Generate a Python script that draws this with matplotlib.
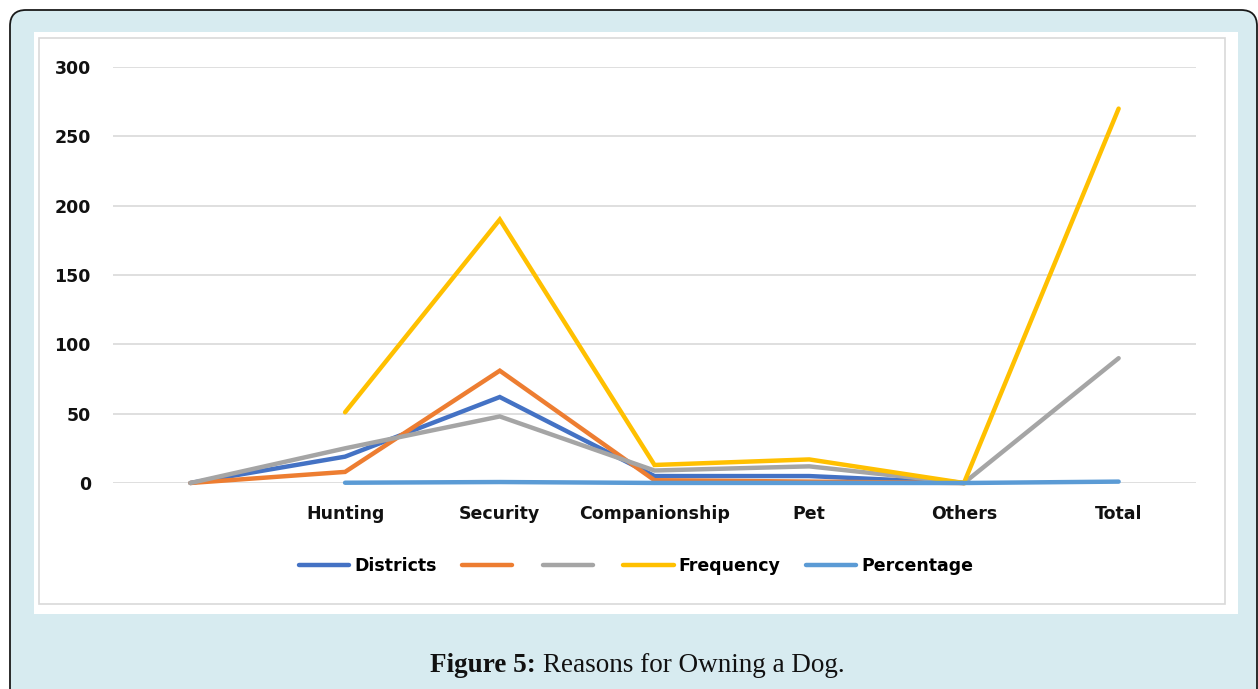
import numpy as np
import matplotlib
matplotlib.use("Agg")
from matplotlib import pyplot as plt
from matplotlib.patches import FancyBboxPatch, Rectangle
from matplotlib.lines import Line2D

W, H = 1258, 689

categories = ["", "Hunting", "Security", "Companionship", "Pet", "Others", "Total"]
districts = [0, 19, 62, 5, 5, 0, np.nan]
series_2 = [0, 8, 81, 2, 1, 0, np.nan]
series_3 = [0, 25, 48, 9, 12, 0, 90]
frequency = [np.nan, 51, 190, 13, 17, 0, 270]
percentage = [np.nan, 0.19, 0.70, 0.05, 0.06, 0.0, 1.0]

names = ["Districts", "", "", "Frequency", "Percentage"]
colors = ["#4472C4", "#ED7D31", "#A5A5A5", "#FFC000", "#5B9BD5"]

fig = plt.figure(figsize=(W / 100, H / 100), dpi=100)
fig.patch.set_facecolor("white")

# page frame drawn in pixel units
bg = fig.add_axes([0, 0, 1, 1], zorder=0)
bg.set_xlim(0, W)
bg.set_ylim(H, 0)
bg.axis("off")
bg.add_patch(FancyBboxPatch((10, 10), W - 11, H + 40,
                            boxstyle="round,pad=0,rounding_size=16",
                            facecolor="#D7EBF0", edgecolor="#1a1a1a", lw=1.3))
bg.add_patch(Rectangle((34, 32), 1204, 582, facecolor="white", edgecolor="none"))
bg.add_patch(Rectangle((39, 38), 1186, 566, facecolor="white",
                       edgecolor="#D9D9D9", lw=1.2))
bg.text(536, 665, "Figure 5:", ha="right", va="center", fontsize=19.5,
        fontweight="bold", family="Liberation Serif", color="#111111")
bg.text(543, 665, "Reasons for Owning a Dog.", ha="left", va="center",
        fontsize=19.5, family="Liberation Serif", color="#111111")

ax = fig.add_axes([113 / W, 1 - 483 / H, 1083 / W, 416 / H], zorder=1)
ax.set_facecolor("none")

x = np.arange(len(categories))
data = [districts, series_2, series_3, frequency, percentage]
for vals, c in zip(data, colors):
    ax.plot(x, vals, color=c, lw=3.2, solid_capstyle="round",
            solid_joinstyle="miter", zorder=3, clip_on=False)

ax.set_xlim(-0.5, len(categories) - 0.5)
ax.set_ylim(0, 300)
ax.set_yticks(range(0, 301, 50))
ax.set_xticks(x)
ax.set_xticklabels(categories)
ax.grid(axis="y", color="#D9D9D9", lw=1.2)
ax.set_axisbelow(True)
for s in ax.spines.values():
    s.set_visible(False)
ax.tick_params(length=0, labelsize=12.5)
ax.tick_params(axis="y", pad=16)
ax.tick_params(axis="x", pad=15.5)
for lab in ax.get_xticklabels() + ax.get_yticklabels():
    lab.set_fontweight("bold")
    lab.set_color("#111111")

handles = [Line2D([], [], color=c, lw=3.2, solid_capstyle="round") for c in colors]
fig.legend(handles, names, loc="center", bbox_to_anchor=(636 / W, 1 - 566 / H),
           ncol=5, frameon=False, handlelength=2.9, handletextpad=0.3,
           columnspacing=1.45, prop={"weight": "bold", "size": 12.5})

fig.savefig("out.png", dpi=100)
